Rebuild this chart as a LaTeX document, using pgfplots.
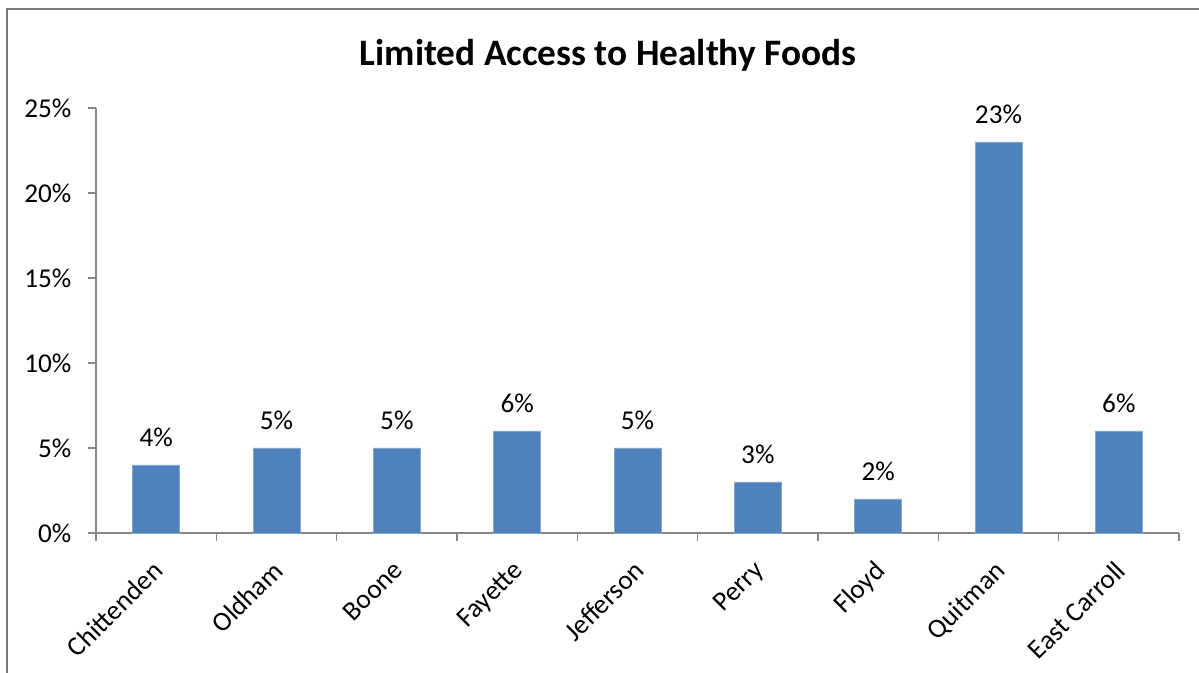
\documentclass[border=0pt]{standalone}
\usepackage{pgfplots}
\pgfplotsset{compat=1.18}
\usetikzlibrary{calc}
\usepackage{fontspec}
\setmainfont{Carlito}
\definecolor{barblue}{HTML}{4F81BD}
\definecolor{axgray}{HTML}{868686}
\begin{document}
\begin{tikzpicture}[x=0.75pt,y=0.75pt]
\begin{axis}[
  name=ax,
  scale only axis, width=812.25pt, height=318.75pt,
  xmin=0, xmax=9, ymin=0, ymax=25,
  axis x line*=bottom, axis y line*=left,
  axis line style={axgray, line width=1pt},
  ytick={0,5,...,25},
  yticklabel={\pgfmathprintnumber{\tick}\%},
  xtick={0.5,1.5,...,8.5},
  xticklabels={Chittenden,Oldham,Boone,Fayette,Jefferson,Perry,Floyd,Quitman,East Carroll},
  minor xtick={0,1,...,9},
  major x tick style={draw=none},
  tick align=outside,
  tick style={axgray, line width=1pt},
  major tick length=6pt,
  minor tick length=6pt,
  minor x tick style={axgray, line width=1pt},
  /pgf/number format/assume math mode=true,
  ticklabel style={font=\fontsize{20.4}{24}\selectfont},
  x tick label style={xshift=-4pt, yshift=-12pt, rotate=45, anchor=north east, inner sep=1pt},
  y tick label style={xshift=-9pt},
  ybar, bar width=0.39,
  nodes near coords={\pgfmathprintnumber{\pgfplotspointmeta}\%},
  nodes near coords style={font=\fontsize{20.4}{24}\selectfont, yshift=10pt},
  point meta=explicit symbolic,
  clip=false,
]
\coordinate (O) at (rel axis cs:0,0);
\addplot[fill=barblue, draw=barblue!70!white] table[meta=y] {
x y
0.5 4
1.5 5
2.5 5
3.5 6
4.5 5
5.5 3
6.5 2
7.5 23
8.5 6
};
\end{axis}
\pgfresetboundingbox
\path[use as bounding box] ($(O)+(-96,-140)$) rectangle ($(O)+(1103,533)$);
\draw[axgray!90!black, line width=1.5pt] ($(O)+(-89,-150)$) -- ($(O)+(-89,524)$) -- ($(O)+(1110,524)$);
\node[font=\fontsize{28}{33}\selectfont\bfseries] at ($(O)+(512,478)$) {Limited Access to Healthy Foods};
\end{tikzpicture}
\end{document}
